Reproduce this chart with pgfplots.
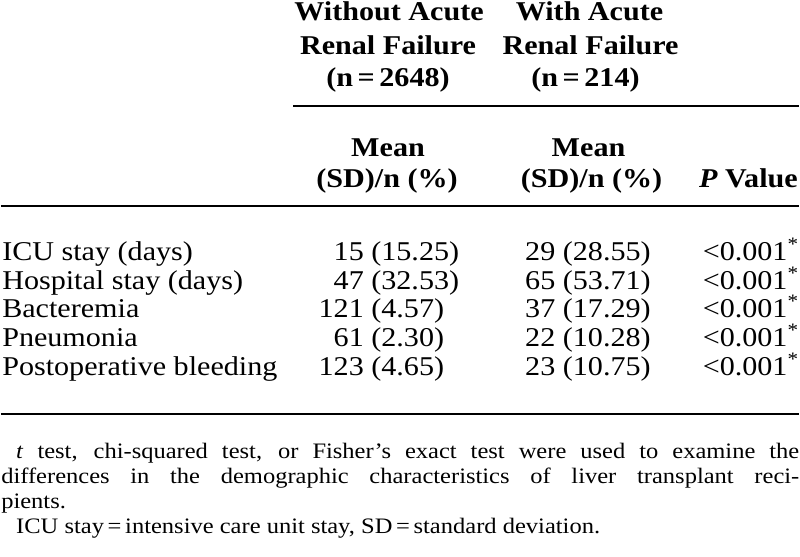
\documentclass[border=0pt]{standalone}
\usepackage{pgfplots}
\pgfplotsset{compat=1.18}
\usepackage{fontspec}
\setmainfont{Liberation Serif}[FakeStretch=1.11]
\newcommand\row[6]{%
  \node[b, anchor=base west] at (axis cs:1,#1) {#2};
  \node[b, anchor=base east] at (axis cs:364,#1) {#3};
  \node[b, anchor=base west] at (axis cs:371,#1) {(#4)};
  \node[b, anchor=base east] at (axis cs:556,#1) {#5};
  \node[b, anchor=base west] at (axis cs:563,#1) {(#6)};
  \node[b, anchor=base east] at (axis cs:800,#1) {<0.001\textsuperscript{*}};
}
\begin{document}
\begin{tikzpicture}
\tikzset{b/.style={inner sep=0pt, font=\fontsize{20.4}{24}\selectfont},
         h/.style={b, font=\fontsize{20.4}{24}\selectfont\bfseries},
         f/.style={inner sep=0pt, font=\fontsize{16.6}{20}\selectfont}}
\begin{axis}[
  scale only axis, width=600pt, height=418.5pt,
  xmin=0, xmax=800, ymin=0, ymax=558, y dir=reverse,
  hide axis, clip=false,
]
\path (axis cs:0,0) rectangle (axis cs:800,558);
% header
\node[h, anchor=base] at (axis cs:389,21) {Without Acute};
\node[h, anchor=base] at (axis cs:590,21) {With Acute};
\node[h, anchor=base] at (axis cs:388,55) {Renal Failure};
\node[h, anchor=base] at (axis cs:591,55) {Renal Failure};
\node[h, anchor=base] at (axis cs:388,87) {(n\,=\,2648)};
\node[h, anchor=base] at (axis cs:586,87) {(n\,=\,214)};
\draw[line width=1.5pt] (axis cs:293,106) -- (axis cs:800,106);
\node[h, anchor=base] at (axis cs:388,157) {Mean};
\node[h, anchor=base] at (axis cs:589,157) {Mean};
\node[h, anchor=base] at (axis cs:387,188) {(SD)/n (\%)};
\node[h, anchor=base] at (axis cs:592,188) {(SD)/n (\%)};
\node[h, anchor=base east] at (axis cs:799,188) {\textit{P} Value};
\draw[line width=1.5pt] (axis cs:0,207) -- (axis cs:800,207);
% rows
\row{261}{ICU stay (days)}{15}{15.25}{29}{28.55}
\row{290}{Hospital stay (days)}{47}{32.53}{65}{53.71}
\row{318}{Bacteremia}{121}{4.57}{37}{17.29}
\row{347}{Pneumonia}{61}{2.30}{22}{10.28}
\row{376}{Postoperative bleeding}{123}{4.65}{23}{10.75}
\draw[line width=1.5pt] (axis cs:0,415) -- (axis cs:800,415);
% footnote
\node[f, anchor=base west] at (axis cs:15,460) {\makebox[588.75pt][s]{\textit{t} test, chi-squared test, or Fisher’s exact test were used to examine the}};
\node[f, anchor=base west] at (axis cs:0,485) {\makebox[600pt][s]{differences in the demographic characteristics of liver transplant reci-}};
\node[f, anchor=base west] at (axis cs:0,510) {pients.};
\node[f, anchor=base west] at (axis cs:15,535) {ICU stay\,=\,intensive care unit stay, SD\,=\,standard deviation.};
\end{axis}
\end{tikzpicture}
\end{document}
